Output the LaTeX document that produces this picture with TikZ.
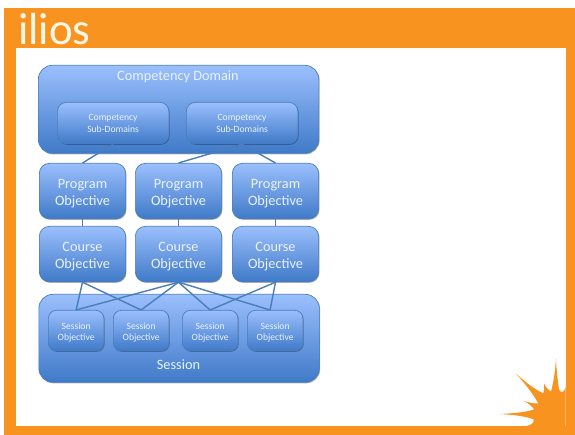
\documentclass[tikz,border=0pt]{standalone}
\usepackage{fontspec}
\setmainfont{Carlito}
\usetikzlibrary{shadows,calc}
\definecolor{frameor}{HTML}{F9931F}
\definecolor{linkb}{HTML}{4A7EBB}
\definecolor{gradtop}{HTML}{9BBFFD}
\definecolor{gradbot}{HTML}{3F7AC8}
\definecolor{txtw}{HTML}{EAF2FF}
\definecolor{logoc}{HTML}{FFF6E6}
\tikzset{
  box/.style={draw=linkb,line width=0.7pt,top color=gradtop,bottom color=gradbot,
    text=txtw,align=center,inner sep=0pt,anchor=north west,
    drop shadow={shadow xshift=0.8pt,shadow yshift=-1pt,opacity=0.3,fill=black}},
  big/.style={box,rounded corners=14pt,font=\fontsize{14.3}{17}\selectfont},
  objbox/.style={box,rounded corners=8pt},
  sub/.style={objbox,rounded corners=9pt,minimum width=111.5pt,minimum height=41.5pt,font=\fontsize{9.6}{12}\selectfont},
  obj/.style={objbox,rounded corners=10pt,minimum width=86.3pt,minimum height=55.5pt,font=\fontsize{14.3}{17}\selectfont},
  sess/.style={objbox,rounded corners=8pt,minimum width=55.5pt,minimum height=40.5pt,font=\fontsize{9.6}{11}\selectfont},
  link/.style={draw=linkb,line width=1.4pt},
  title/.style={text=txtw,inner sep=0pt,font=\fontsize{14.3}{16}\selectfont},
}
\begin{document}
\begin{tikzpicture}[x=1pt,y=-1pt]
\useasboundingbox (0,0) rectangle (575,435);
\fill[white] (0,0) rectangle (575,435);
\fill[frameor] (4,8) rectangle (575,435);
\fill[white] (16,48) rectangle (566,425.5);
% burst
\begin{scope}[shift={(475,340)},x=0.3333pt,y=-0.3333pt]
\fill[frameor] (155,258) .. controls (170,255) and (178,247) .. (176,238)
 .. controls (150,228) and (110,224) .. (75,222)
 .. controls (110,220) and (150,218) .. (178,208)
 .. controls (170,198) and (160,190) .. (148,183)
 .. controls (162,188) and (176,191) .. (190,190)
 .. controls (170,155) and (145,125) .. (122,100)
 .. controls (150,125) and (178,148) .. (205,160)
 .. controls (208,150) and (208,140) .. (207,130)
 .. controls (212,142) and (220,150) .. (228,155)
 .. controls (236,125) and (241,90) .. (243,55)
 .. controls (244,90) and (248,120) .. (252,148)
 .. controls (256,160) and (268,160) .. (272,140)
 -- (272,262) -- (155,262) -- cycle;
\end{scope}
\node[text=logoc,inner sep=0pt,font=\fontsize{45}{45}\selectfont,anchor=base west] (logo) at (18,45) {ilios};
% boxes
\node[big,minimum width=280.5pt,minimum height=88pt] (dom) at (38,65) {};
\node[title] (domt) at (178,77) {Competency Domain};
\node[sub] (sd1) at (57,102) {Competency\\Sub-Domains};
\node[sub] (sd2) at (186,102) {Competency\\Sub-Domains};
\node[big,minimum width=280.5pt,minimum height=88pt] (ses) at (38.5,294) {};
\node[title] (sest) at (178.5,365) {Session};
\foreach \n/\x in {p1/39,p2/135,p3/232}
  \node[obj] (\n) at (\x,163) {\rule{0pt}{14.5pt}Program\\Objective};
\foreach \n/\x in {c1/39,c2/135,c3/232}
  \node[obj] (\n) at (\x,226) {\rule{0pt}{14.5pt}Course\\Objective};
\foreach \n/\x in {s1/48,s2/113,s3/182,s4/247}
  \node[sess] (\n) at (\x,310) {\rule{0pt}{10.5pt}Session\\Objective};
% links
\draw[link] (sd1.south) -- (p1.north);
\draw[link] (sd2.south) -- (p2.north);
\draw[link] (sd2.south) -- (p3.north);
\draw[link] (p1.south) -- (c1.north);
\draw[link] (p2.south) -- (c2.north);
\draw[link] (p3.south) -- (c3.north);
\draw[link] (c1.south) -- (s1.north);
\draw[link] (c1.south) -- (s2.north);
\draw[link] (c2.south) -- (s1.north);
\draw[link] (c2.south) -- (s2.north);
\draw[link] (c2.south) -- (s3.north);
\draw[link] (c2.south) -- ([xshift=-5pt]s4.north);
\draw[link] (c3.south) -- (s3.north);
\draw[link] (c3.south) -- ([xshift=-5pt]s4.north);
\end{tikzpicture}
\end{document}
